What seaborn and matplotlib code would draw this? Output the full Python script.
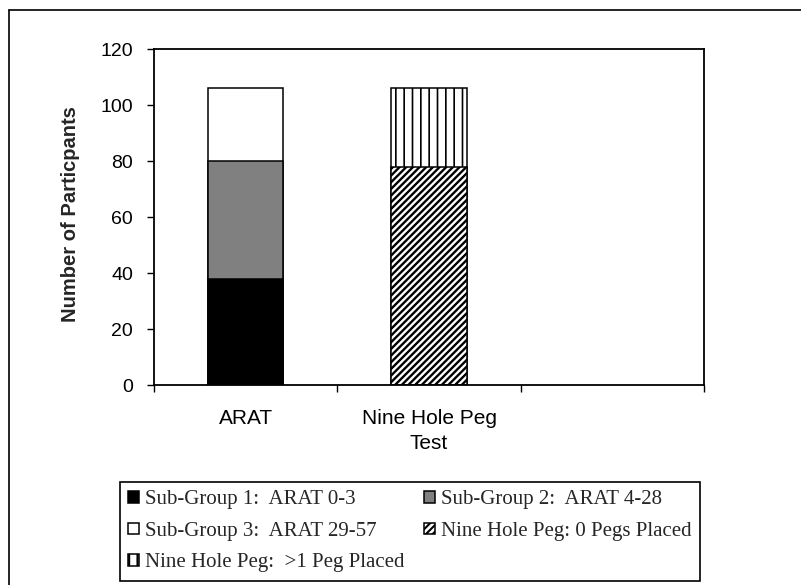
import matplotlib
matplotlib.use("Agg")
import matplotlib.pyplot as plt
from matplotlib.lines import Line2D
from matplotlib.ticker import FixedLocator
import pandas as pd
import seaborn as sns

# Categories on the x axis (the third slot is left empty)
categories = ["ARAT", "Nine Hole Peg\nTest", ""]

# ARAT sub-groups (stacked, bottom to top)
arat_labels = ["Sub-Group 1:  ARAT 0-3", "Sub-Group 2:  ARAT 4-28", "Sub-Group 3:  ARAT 29-57"]
arat_counts = [38, 42, 26]
arat_colors = ["#000000", "#808080", "#ffffff"]

# Nine Hole Peg groups (stacked, bottom to top)
peg_labels = ["Nine Hole Peg: 0 Pegs Placed", "Nine Hole Peg:  >1 Peg Placed"]
peg_counts = [78, 28]
peg_hatches = ["/////", "||"]
peg_hatch_widths = [1.7, 1.2]

y_ticks = [0, 20, 40, 60, 80, 100, 120]

sns.set_theme(style="ticks")
plt.rcParams["font.family"] = ["Liberation Sans", "DejaVu Sans"]
plt.rcParams["hatch.color"] = "black"
plt.rcParams["hatch.linewidth"] = 1.5

fig = plt.figure(figsize=(8.01, 5.85), dpi=100)
ax = fig.add_axes([154 / 801, 1 - 385 / 585, 550 / 801, 336 / 585])


def cumulative(values):
    out, total = [], 0
    for v in values:
        total += v
        out.append(total)
    return out


bar_kw = dict(order=categories, width=0.41, edgecolor="black", linewidth=1.1,
              saturation=1, ax=ax)

# Stacked bars: draw the tallest cumulative total first, then cover it downwards
arat_tops = cumulative(arat_counts)
for label, top, color in reversed(list(zip(arat_labels, arat_tops, arat_colors))):
    df = pd.DataFrame({"test": [categories[0]], "n": [top]})
    sns.barplot(data=df, x="test", y="n", color=color, label=label, **bar_kw)

peg_tops = cumulative(peg_counts)
for label, top, hatch, hlw in reversed(list(zip(peg_labels, peg_tops, peg_hatches,
                                                 peg_hatch_widths))):
    df = pd.DataFrame({"test": [categories[1]], "n": [top]})
    n_before = len(ax.patches)
    sns.barplot(data=df, x="test", y="n", color="white", hatch=hatch, label=label, **bar_kw)
    for patch in ax.patches[n_before:]:
        if hasattr(patch, "set_hatch_linewidth"):
            patch.set_hatch_linewidth(hlw)

if ax.get_legend() is not None:
    ax.get_legend().remove()

ax.set_xlim(-0.5, len(categories) - 0.5)
ax.set_ylim(0, 120)
ax.set_yticks(y_ticks)
ax.set_xlabel("")
ax.set_ylabel("Number of Particpants", fontsize=14.5, fontweight="bold")
ax.yaxis.set_label_coords(-0.135, 0.51)

for side in ["left", "right", "top", "bottom"]:
    ax.spines[side].set_visible(True)
    ax.spines[side].set_color("black")
    ax.spines[side].set_linewidth(1.3)

ax.tick_params(axis="y", which="major", length=5, width=1, pad=10,
               labelsize=14, colors="black", direction="out", right=False)
ax.tick_params(axis="x", which="major", length=0, pad=17, labelsize=15,
               labelcolor="black", top=False)
for lbl in ax.get_xticklabels():
    lbl.set_linespacing(1.45)
ax.xaxis.set_minor_locator(FixedLocator([-0.5, 0.5, 1.5, 2.5]))
ax.tick_params(axis="x", which="minor", length=5, width=1, color="black",
               direction="out", bottom=True, top=False)

# Legend: reorder so matplotlib's column-first fill reads row by row
handles, labels = ax.get_legend_handles_labels()
lookup = dict(zip(labels, handles))
order = [arat_labels[0], arat_labels[2], peg_labels[1], arat_labels[1], peg_labels[0]]
leg = fig.legend([lookup[l] for l in order], order, loc="upper left",
                 bbox_to_anchor=(120 / 801, 2 / 585, 580 / 801, 101 / 585),
                 mode="expand", ncol=2, frameon=True, fancybox=False,
                 edgecolor="black", framealpha=1,
                 prop={"family": "Liberation Serif", "size": 15},
                 handlelength=0.5, handleheight=0.5, handletextpad=0.3,
                 labelspacing=0.6, borderpad=0.4, borderaxespad=0)
leg.get_frame().set_linewidth(1.2)

# Outer frame lines along the top and left of the figure
fig.add_artist(Line2D([9 / 801, 1.0], [1 - 10 / 585, 1 - 10 / 585],
                      transform=fig.transFigure, color="black", linewidth=1.2))
fig.add_artist(Line2D([9 / 801, 9 / 801], [0.0, 1 - 10 / 585],
                      transform=fig.transFigure, color="black", linewidth=1.2))

fig.savefig("out.png", dpi=100)
